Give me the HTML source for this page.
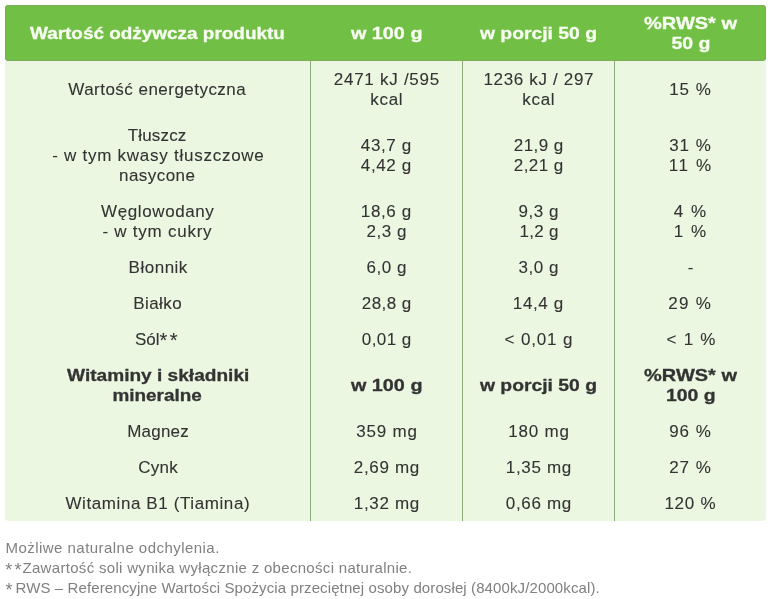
<!DOCTYPE html>
<html><head><meta charset="utf-8">
<style>
*{margin:0;padding:0;box-sizing:border-box}
html,body{width:770px;height:599px;background:#fff;overflow:hidden}
body{font-family:"Liberation Sans",sans-serif;color:#333;position:relative}
#hdr{position:absolute;left:5px;top:5px;width:761px;height:56px;background:#72bf45;border-radius:4px}
#bdy{position:absolute;left:5px;top:61px;width:761px;height:460px;background:#ecf7e2;border-radius:0 0 4px 4px}
.vl{position:absolute;top:61px;width:1px;height:460px;background:#8dab7b}
.c{position:absolute;display:flex;flex-direction:column;justify-content:center;align-items:center;text-align:center;font-size:17px;line-height:20px;white-space:nowrap}
.c span{display:block}
.c,#foot{will-change:transform}
#hdr{box-shadow:inset 0 1px 0 #7dac5c,inset 0 -1px 0 #7dac5c,inset 1px 0 0 #78b050,inset -1px 0 0 #78b050}
.c span{-webkit-text-stroke:0.1px currentColor}
#f1,#f3{font-size:18px}
.c em{font-style:normal;font-size:20px;line-height:0;letter-spacing:2.4px;position:relative;top:2px}
.vl{box-shadow:-1px 0 0 #e8fbd8,1px 0 0 #e6fbd2}
.h{color:#f8fdf2;font-weight:bold;font-size:17px}
.b{font-weight:bold;font-size:17px}
.c.h span,.c.b span{-webkit-text-stroke:0.3px currentColor}
#foot{position:absolute;left:0;top:0;font-size:15px;line-height:21px;color:#808080;white-space:nowrap}
#foot span{position:absolute;display:block}
</style></head><body>
<div id="hdr"></div>
<div id="bdy"></div>
<div class="vl" style="left:310px"></div>
<div class="vl" style="left:462px"></div>
<div class="vl" style="left:614px"></div>
<div class="c h" style="left:5px;top:5px;width:305px;height:56px"><span id="l0" style="letter-spacing:0.00px;position:relative;left:0.00px;top:1.00px;padding-left:0.00px;transform:scaleX(1.1135)">Wartość odżywcza produktu</span></div>
<div class="c h" style="left:311px;top:5px;width:151px;height:56px"><span id="l1" style="letter-spacing:0.00px;position:relative;left:0.50px;top:1.00px;padding-left:0.00px;transform:scaleX(1.1645)">w 100 g</span></div>
<div class="c h" style="left:463px;top:5px;width:151px;height:56px"><span id="l2" style="letter-spacing:0.00px;position:relative;left:0.00px;top:1.00px;padding-left:0.00px;transform:scaleX(1.1372)">w porcji 50 g</span></div>
<div class="c h" style="left:615px;top:5px;width:151px;height:56px"><span id="l3" style="letter-spacing:0.00px;position:relative;left:0.00px;top:1.00px;padding-left:0.00px;transform:scaleX(1.1774)">%RWS* w</span><span id="l4" style="letter-spacing:0.00px;position:relative;left:0.50px;top:1.00px;padding-left:0.00px;transform:scaleX(1.1478)">50 g</span></div>
<div class="c" style="left:5px;top:61px;width:305px;height:56px"><span id="l5" style="letter-spacing:0.47px;position:relative;left:-0.50px;top:1.00px;padding-left:0.47px">Wartość energetyczna</span></div>
<div class="c" style="left:311px;top:61px;width:151px;height:56px"><span id="l6" style="letter-spacing:0.73px;position:relative;left:0.00px;top:1.00px;padding-left:0.73px">2471 kJ /595</span><span id="l7" style="letter-spacing:0.67px;position:relative;left:0.00px;top:1.00px;padding-left:0.67px">kcal</span></div>
<div class="c" style="left:463px;top:61px;width:151px;height:56px"><span id="l8" style="letter-spacing:0.67px;position:relative;left:0.00px;top:1.00px;padding-left:0.67px">1236 kJ / 297</span><span id="l9" style="letter-spacing:0.67px;position:relative;left:0.00px;top:1.00px;padding-left:0.67px">kcal</span></div>
<div class="c" style="left:615px;top:61px;width:151px;height:56px"><span id="l10" style="letter-spacing:1.00px;position:relative;left:-0.50px;top:1.00px;padding-left:1.00px">15 %</span></div>
<div class="c" style="left:5px;top:117px;width:305px;height:76px"><span id="l11" style="letter-spacing:0.17px;position:relative;left:-0.50px;top:1.00px;padding-left:0.17px">Tłuszcz</span><span id="l12" style="letter-spacing:0.74px;position:relative;left:0.50px;top:1.00px;padding-left:0.74px">- w tym kwasy tłuszczowe</span><span id="l13" style="letter-spacing:0.43px;position:relative;left:-0.50px;top:1.00px;padding-left:0.43px">nasycone</span></div>
<div class="c" style="left:311px;top:117px;width:151px;height:76px"><span id="l14" style="letter-spacing:0.60px;position:relative;left:-0.50px;top:1.00px;padding-left:0.60px">43,7 g</span><span id="l15" style="letter-spacing:0.60px;position:relative;left:-0.50px;top:1.00px;padding-left:0.60px">4,42 g</span></div>
<div class="c" style="left:463px;top:117px;width:151px;height:76px"><span id="l16" style="letter-spacing:0.40px;position:relative;left:0.00px;top:1.00px;padding-left:0.40px">21,9 g</span><span id="l17" style="letter-spacing:0.40px;position:relative;left:0.00px;top:1.00px;padding-left:0.40px">2,21 g</span></div>
<div class="c" style="left:615px;top:117px;width:151px;height:76px"><span id="l18" style="letter-spacing:1.00px;position:relative;left:-0.50px;top:1.00px;padding-left:1.00px">31 %</span><span id="l19" style="letter-spacing:1.67px;position:relative;left:-0.50px;top:1.00px;padding-left:1.67px">11 %</span></div>
<div class="c" style="left:5px;top:193px;width:305px;height:56px"><span id="l20" style="letter-spacing:0.60px;position:relative;left:0.00px;top:1.00px;padding-left:0.60px">Węglowodany</span><span id="l21" style="letter-spacing:0.75px;position:relative;left:-0.50px;top:1.00px;padding-left:0.75px">- w tym cukry</span></div>
<div class="c" style="left:311px;top:193px;width:151px;height:56px"><span id="l22" style="letter-spacing:0.60px;position:relative;left:-0.50px;top:1.00px;padding-left:0.60px">18,6 g</span><span id="l23" style="letter-spacing:0.50px;position:relative;left:0.00px;top:1.00px;padding-left:0.50px">2,3 g</span></div>
<div class="c" style="left:463px;top:193px;width:151px;height:56px"><span id="l24" style="letter-spacing:0.50px;position:relative;left:0.00px;top:1.00px;padding-left:0.50px">9,3 g</span><span id="l25" style="letter-spacing:0.25px;position:relative;left:0.50px;top:1.00px;padding-left:0.25px">1,2 g</span></div>
<div class="c" style="left:615px;top:193px;width:151px;height:56px"><span id="l26" style="letter-spacing:1.50px;position:relative;left:-0.50px;top:1.00px;padding-left:1.50px">4 %</span><span id="l27" style="letter-spacing:1.50px;position:relative;left:-0.50px;top:1.00px;padding-left:1.50px">1 %</span></div>
<div class="c" style="left:5px;top:249px;width:305px;height:36px"><span id="l28" style="letter-spacing:0.50px;position:relative;left:0.50px;top:1.00px;padding-left:0.50px">Błonnik</span></div>
<div class="c" style="left:311px;top:249px;width:151px;height:36px"><span id="l29" style="letter-spacing:0.50px;position:relative;left:0.00px;top:1.00px;padding-left:0.50px">6,0 g</span></div>
<div class="c" style="left:463px;top:249px;width:151px;height:36px"><span id="l30" style="letter-spacing:0.50px;position:relative;left:0.00px;top:1.00px;padding-left:0.50px">3,0 g</span></div>
<div class="c" style="left:615px;top:249px;width:151px;height:36px"><span id="l31" style="letter-spacing:0.00px;position:relative;left:0.00px;top:1.00px;padding-left:0.00px">-</span></div>
<div class="c" style="left:5px;top:285px;width:305px;height:36px"><span id="l32" style="letter-spacing:0.40px;position:relative;left:0.00px;top:1.00px;padding-left:0.40px">Białko</span></div>
<div class="c" style="left:311px;top:285px;width:151px;height:36px"><span id="l33" style="letter-spacing:0.40px;position:relative;left:0.00px;top:1.00px;padding-left:0.40px">28,8 g</span></div>
<div class="c" style="left:463px;top:285px;width:151px;height:36px"><span id="l34" style="letter-spacing:0.60px;position:relative;left:-0.50px;top:1.00px;padding-left:0.60px">14,4 g</span></div>
<div class="c" style="left:615px;top:285px;width:151px;height:36px"><span id="l35" style="letter-spacing:1.33px;position:relative;left:-1.00px;top:1.00px;padding-left:1.33px">29 %</span></div>
<div class="c" style="left:5px;top:321px;width:305px;height:36px"><span id="l36" style="letter-spacing:0.00px;position:relative;left:0.00px;top:1.00px;padding-left:0.00px">Sól<em>**</em></span></div>
<div class="c" style="left:311px;top:321px;width:151px;height:36px"><span id="l37" style="letter-spacing:0.40px;position:relative;left:0.00px;top:1.00px;padding-left:0.40px">0,01 g</span></div>
<div class="c" style="left:463px;top:321px;width:151px;height:36px"><span id="l38" style="letter-spacing:0.86px;position:relative;left:0.00px;top:1.00px;padding-left:0.86px">&lt; 0,01 g</span></div>
<div class="c" style="left:615px;top:321px;width:151px;height:36px"><span id="l39" style="letter-spacing:1.25px;position:relative;left:0.50px;top:1.00px;padding-left:1.25px">&lt; 1 %</span></div>
<div class="c b" style="left:5px;top:357px;width:305px;height:56px"><span id="l40" style="letter-spacing:0.00px;position:relative;left:0.50px;top:1.00px;padding-left:0.00px;transform:scaleX(1.1228)">Witaminy i składniki</span><span id="l41" style="letter-spacing:0.00px;position:relative;left:0.00px;top:1.00px;padding-left:0.00px;transform:scaleX(1.1125)">mineralne</span></div>
<div class="c b" style="left:311px;top:357px;width:151px;height:56px"><span id="l42" style="letter-spacing:0.00px;position:relative;left:0.50px;top:1.00px;padding-left:0.00px;transform:scaleX(1.1645)">w 100 g</span></div>
<div class="c b" style="left:463px;top:357px;width:151px;height:56px"><span id="l43" style="letter-spacing:0.00px;position:relative;left:0.00px;top:1.00px;padding-left:0.00px;transform:scaleX(1.1372)">w porcji 50 g</span></div>
<div class="c b" style="left:615px;top:357px;width:151px;height:56px"><span id="l44" style="letter-spacing:0.00px;position:relative;left:0.50px;top:1.00px;padding-left:0.00px;transform:scaleX(1.1751)">%RWS* w</span><span id="l45" style="letter-spacing:0.00px;position:relative;left:0.50px;top:1.00px;padding-left:0.00px;transform:scaleX(1.1429)">100 g</span></div>
<div class="c" style="left:5px;top:413px;width:305px;height:36px"><span id="l46" style="letter-spacing:0.20px;position:relative;left:0.50px;top:1.00px;padding-left:0.20px">Magnez</span></div>
<div class="c" style="left:311px;top:413px;width:151px;height:36px"><span id="l47" style="letter-spacing:0.80px;position:relative;left:0.00px;top:1.00px;padding-left:0.80px">359 mg</span></div>
<div class="c" style="left:463px;top:413px;width:151px;height:36px"><span id="l48" style="letter-spacing:0.80px;position:relative;left:0.00px;top:1.00px;padding-left:0.80px">180 mg</span></div>
<div class="c" style="left:615px;top:413px;width:151px;height:36px"><span id="l49" style="letter-spacing:1.00px;position:relative;left:-0.50px;top:1.00px;padding-left:1.00px">96 %</span></div>
<div class="c" style="left:5px;top:449px;width:305px;height:36px"><span id="l50" style="letter-spacing:0.33px;position:relative;left:0.50px;top:1.00px;padding-left:0.33px">Cynk</span></div>
<div class="c" style="left:311px;top:449px;width:151px;height:36px"><span id="l51" style="letter-spacing:0.67px;position:relative;left:0.00px;top:1.00px;padding-left:0.67px">2,69 mg</span></div>
<div class="c" style="left:463px;top:449px;width:151px;height:36px"><span id="l52" style="letter-spacing:0.67px;position:relative;left:0.00px;top:1.00px;padding-left:0.67px">1,35 mg</span></div>
<div class="c" style="left:615px;top:449px;width:151px;height:36px"><span id="l53" style="letter-spacing:1.00px;position:relative;left:-0.50px;top:1.00px;padding-left:1.00px">27 %</span></div>
<div class="c" style="left:5px;top:485px;width:305px;height:36px"><span id="l54" style="letter-spacing:0.60px;position:relative;left:0.00px;top:1.00px;padding-left:0.60px">Witamina B1 (Tiamina)</span></div>
<div class="c" style="left:311px;top:485px;width:151px;height:36px"><span id="l55" style="letter-spacing:0.67px;position:relative;left:0.00px;top:1.00px;padding-left:0.67px">1,32 mg</span></div>
<div class="c" style="left:463px;top:485px;width:151px;height:36px"><span id="l56" style="letter-spacing:0.67px;position:relative;left:0.00px;top:1.00px;padding-left:0.67px">0,66 mg</span></div>
<div class="c" style="left:615px;top:485px;width:151px;height:36px"><span id="l57" style="letter-spacing:0.75px;position:relative;left:-0.50px;top:1.00px;padding-left:0.75px">120 %</span></div>
<div id="foot"><span id="f0" style="left:5.50px;top:537.00px;letter-spacing:0.46px">Możliwe naturalne odchylenia.</span><span id="f1" style="left:5.30px;top:559.60px;letter-spacing:2.30px">**</span><span id="f2" style="left:22.50px;top:557.00px;letter-spacing:0.31px">Zawartość soli wynika wyłącznie z obecności naturalnie.</span><span id="f3" style="left:5.50px;top:579.60px;letter-spacing:0.00px">*</span><span id="f4" style="left:15.50px;top:577.00px;letter-spacing:0.11px">RWS – Referencyjne Wartości Spożycia przeciętnej osoby dorosłej (8400kJ/2000kcal).</span></div>
</body></html>
